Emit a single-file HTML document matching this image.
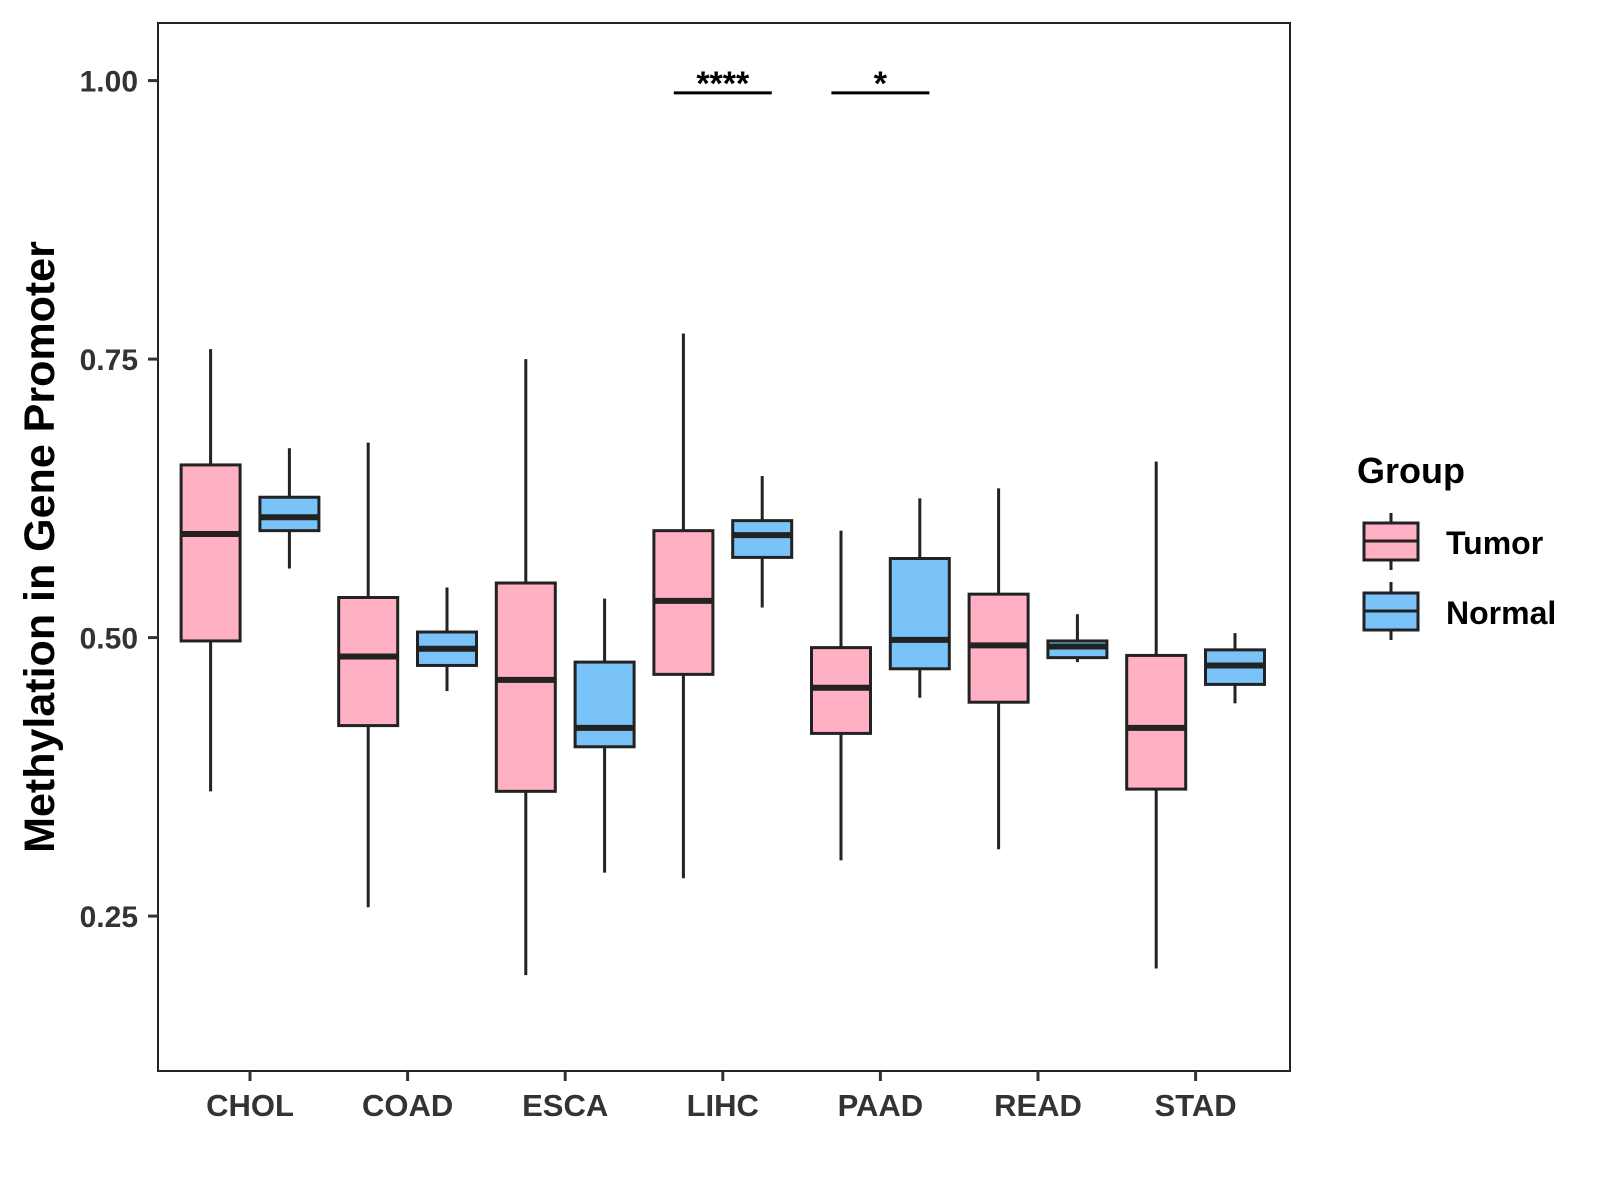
<!DOCTYPE html>
<html><head><meta charset="utf-8"><style>
html,body{margin:0;padding:0;background:#fff;width:1600px;height:1200px;overflow:hidden}
svg{display:block;font-family:"Liberation Sans",Arial,sans-serif}
</style></head><body>
<svg id="chart" width="1600" height="1200" viewBox="0 0 1600 1200">
<rect x="158" y="23" width="1132" height="1048" fill="#fff" stroke="#222" stroke-width="2"/>
<g id="marks"></g>
<g id="axes"></g>
<text transform="translate(54,547) rotate(-90)" text-anchor="middle" font-size="43" font-weight="bold" fill="#000">Methylation in Gene Promoter</text>
<g>
<text x="1357" y="483" font-size="36" font-weight="bold" fill="#000">Group</text>
<g>
<line x1="1391" y1="513" x2="1391" y2="570" stroke="#222" stroke-width="3"/>
<rect x="1364" y="523" width="54" height="37" fill="#FFB0C2" stroke="#222" stroke-width="3"/>
<line x1="1364" y1="541" x2="1418" y2="541" stroke="#222" stroke-width="3"/>
<text x="1446" y="554" font-size="32" font-weight="bold" fill="#000">Tumor</text>
</g>
<g>
<line x1="1391" y1="582" x2="1391" y2="640" stroke="#222" stroke-width="3"/>
<rect x="1364" y="593" width="54" height="37" fill="#79C3F8" stroke="#222" stroke-width="3"/>
<line x1="1364" y1="611" x2="1418" y2="611" stroke="#222" stroke-width="3"/>
<text x="1446" y="624" font-size="32" font-weight="bold" fill="#000">Normal</text>
</g>
</g>
</svg>
<script>
const categories = ["CHOL","COAD","ESCA","LIHC","PAAD","READ","STAD"];
// [lowerWhisker, q1, median, q3, upperWhisker]
const tumorStats = [
 [0.362,0.497,0.593,0.655,0.759],
 [0.258,0.421,0.483,0.536,0.675],
 [0.197,0.362,0.462,0.549,0.750],
 [0.284,0.467,0.533,0.596,0.773],
 [0.300,0.414,0.455,0.491,0.596],
 [0.310,0.442,0.493,0.539,0.634],
 [0.203,0.364,0.419,0.484,0.658]
];
const normalStats = [
 [0.562,0.596,0.608,0.626,0.670],
 [0.452,0.475,0.490,0.505,0.545],
 [0.289,0.402,0.419,0.478,0.535],
 [0.527,0.572,0.592,0.605,0.645],
 [0.446,0.472,0.498,0.571,0.625],
 [0.478,0.482,0.492,0.497,0.521],
 [0.441,0.458,0.475,0.489,0.504]
];
const yTicks = [0.25,0.50,0.75,1.00];
const yTickLabels = ["0.25","0.50","0.75","1.00"];
const sigCategories = ["LIHC","PAAD"];
const sigLabels = ["****","*"];
const sigLevel = 0.989;

const NS="http://www.w3.org/2000/svg";
function yS(v){return 80.6+(1-v)*1114;}
function xS(i){return 250+i*157.6;}
const marks=document.getElementById('marks'), axes=document.getElementById('axes');
function mk(tag,attrs,parent){const e=document.createElementNS(NS,tag);for(const k in attrs)e.setAttribute(k,attrs[k]);parent.appendChild(e);return e;}
function drawBox(i,s,off,fill,name){
  const g=mk('g',{},marks);
  
  
  const cx=xS(i)+off,w=59;
  mk('line',{x1:cx,x2:cx,y1:yS(s[4]),y2:yS(s[3]),stroke:'#222','stroke-width':3},g);
  mk('line',{x1:cx,x2:cx,y1:yS(s[1]),y2:yS(s[0]),stroke:'#222','stroke-width':3},g);
  mk('rect',{x:cx-w/2,y:yS(s[3]),width:w,height:yS(s[1])-yS(s[3]),fill:fill,stroke:'#222','stroke-width':3},g);
  mk('line',{x1:cx-w/2,x2:cx+w/2,y1:yS(s[2]),y2:yS(s[2]),stroke:'#222','stroke-width':6},g);
}
categories.forEach((c,i)=>{
  drawBox(i,tumorStats[i],-39.4,'#FFB0C2','box-tumor-'+c.toLowerCase());
  drawBox(i,normalStats[i],39.4,'#79C3F8','box-normal-'+c.toLowerCase());
  const t=mk('line',{x1:xS(i),x2:xS(i),y1:1071,y2:1081,stroke:'#333','stroke-width':3},axes);
  
  
  const l=mk('text',{x:xS(i),y:1116,'text-anchor':'middle','font-size':31,'font-weight':'bold',fill:'#333'},axes);
  
  
  l.textContent=c;
});
yTicks.forEach((v,k)=>{
  const t=mk('line',{x1:148,x2:158,y1:yS(v),y2:yS(v),stroke:'#333','stroke-width':3},axes);
  
  
  const l=mk('text',{x:138,y:yS(v)+11,'text-anchor':'end','font-size':30,'font-weight':'bold',fill:'#333'},axes);
  
  
  l.textContent=yTickLabels[k];
});
sigCategories.forEach((c,k)=>{
  const i=categories.indexOf(c);
  const g=mk('g',{},marks);
  
  
  mk('line',{x1:xS(i)-49,x2:xS(i)+49,y1:yS(sigLevel),y2:yS(sigLevel),stroke:'#000','stroke-width':3},g);
  const t=mk('text',{x:xS(i),y:yS(sigLevel)+2,'text-anchor':'middle','font-size':34,'font-weight':'bold',fill:'#000'},g);
  t.textContent=sigLabels[k];
});
</script>
</body></html>
